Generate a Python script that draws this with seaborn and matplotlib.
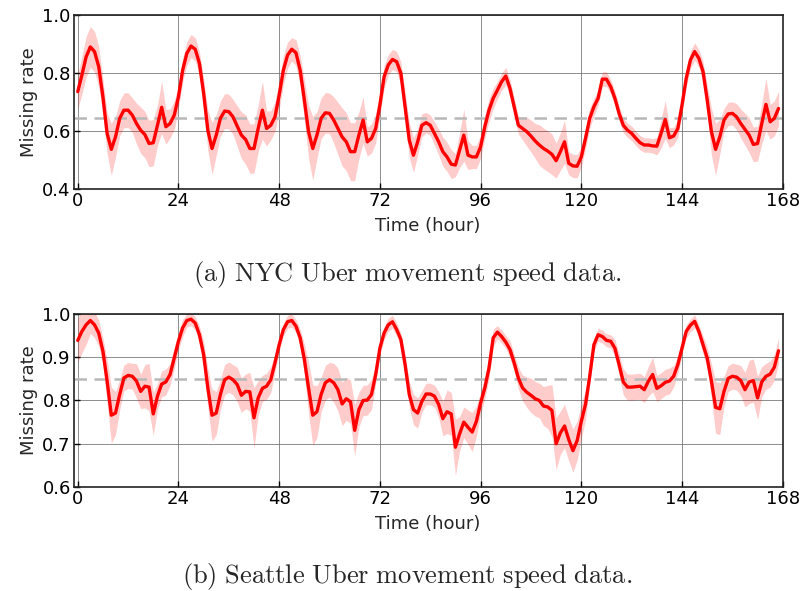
import numpy as np
import pandas as pd
import matplotlib
matplotlib.use("Agg")
import matplotlib.pyplot as plt
import seaborn as sns

# Hourly missing rate over one week (168 hours), mean and band half-width
hours = list(range(168))

nyc_mean = [
    0.736, 0.793, 0.856, 0.890, 0.874, 0.822, 0.718, 0.592, 0.537, 0.580,
    0.644, 0.672, 0.672, 0.655, 0.626, 0.603, 0.588, 0.557, 0.560, 0.620,
    0.682, 0.615, 0.626, 0.655, 0.718, 0.810, 0.868, 0.893, 0.882, 0.833,
    0.730, 0.603, 0.540, 0.586, 0.644, 0.669, 0.667, 0.649, 0.617, 0.586,
    0.571, 0.540, 0.540, 0.609, 0.672, 0.609, 0.620, 0.649, 0.724, 0.810,
    0.862, 0.882, 0.870, 0.810, 0.707, 0.598, 0.540, 0.586, 0.644, 0.663,
    0.661, 0.638, 0.609, 0.580, 0.563, 0.529, 0.529, 0.586, 0.638, 0.563,
    0.575, 0.609, 0.690, 0.787, 0.828, 0.847, 0.839, 0.799, 0.684, 0.569,
    0.517, 0.563, 0.620, 0.629, 0.620, 0.592, 0.563, 0.529, 0.511, 0.486,
    0.483, 0.534, 0.586, 0.517, 0.511, 0.511, 0.546, 0.615, 0.672, 0.713,
    0.741, 0.770, 0.790, 0.747, 0.684, 0.620, 0.609, 0.598, 0.583, 0.566,
    0.552, 0.540, 0.531, 0.520, 0.498, 0.529, 0.563, 0.489, 0.480, 0.479,
    0.511, 0.575, 0.644, 0.684, 0.713, 0.779, 0.779, 0.753, 0.713, 0.661,
    0.620, 0.603, 0.592, 0.575, 0.560, 0.552, 0.552, 0.549, 0.548, 0.592,
    0.640, 0.577, 0.583, 0.609, 0.690, 0.782, 0.845, 0.874, 0.851, 0.805,
    0.707, 0.598, 0.537, 0.580, 0.638, 0.659, 0.661, 0.649, 0.626, 0.606,
    0.586, 0.554, 0.557, 0.626, 0.692, 0.632, 0.644, 0.678,
]
nyc_spread = [
    0.060, 0.065, 0.070, 0.070, 0.070, 0.070, 0.060, 0.070, 0.090, 0.070,
    0.060, 0.060, 0.060, 0.060, 0.070, 0.080, 0.080, 0.080, 0.080, 0.070,
    0.090, 0.060, 0.050, 0.050, 0.040, 0.040, 0.040, 0.040, 0.040, 0.040,
    0.050, 0.070, 0.090, 0.070, 0.060, 0.060, 0.060, 0.060, 0.070, 0.080,
    0.085, 0.085, 0.085, 0.080, 0.100, 0.060, 0.050, 0.050, 0.050, 0.050,
    0.045, 0.040, 0.045, 0.050, 0.070, 0.090, 0.110, 0.080, 0.070, 0.070,
    0.070, 0.080, 0.090, 0.100, 0.100, 0.100, 0.100, 0.080, 0.080, 0.050,
    0.050, 0.050, 0.040, 0.040, 0.035, 0.035, 0.035, 0.040, 0.050, 0.060,
    0.060, 0.045, 0.040, 0.035, 0.035, 0.040, 0.045, 0.050, 0.050, 0.050,
    0.040, 0.060, 0.090, 0.050, 0.040, 0.040, 0.040, 0.040, 0.040, 0.035,
    0.030, 0.030, 0.030, 0.030, 0.030, 0.030, 0.040, 0.050, 0.055, 0.060,
    0.070, 0.070, 0.070, 0.070, 0.060, 0.065, 0.075, 0.040, 0.040, 0.040,
    0.035, 0.035, 0.035, 0.030, 0.025, 0.025, 0.025, 0.025, 0.025, 0.025,
    0.025, 0.025, 0.025, 0.025, 0.025, 0.025, 0.025, 0.025, 0.030, 0.050,
    0.065, 0.035, 0.030, 0.030, 0.030, 0.030, 0.030, 0.030, 0.030, 0.035,
    0.050, 0.080, 0.090, 0.060, 0.040, 0.040, 0.040, 0.045, 0.050, 0.055,
    0.060, 0.060, 0.060, 0.070, 0.090, 0.060, 0.060, 0.060,
]

sea_mean = [
    0.939, 0.960, 0.975, 0.985, 0.975, 0.956, 0.914, 0.845, 0.766, 0.771,
    0.814, 0.852, 0.858, 0.856, 0.845, 0.821, 0.833, 0.831, 0.769, 0.810,
    0.838, 0.843, 0.860, 0.898, 0.937, 0.968, 0.985, 0.988, 0.979, 0.952,
    0.906, 0.829, 0.766, 0.771, 0.814, 0.848, 0.854, 0.848, 0.837, 0.812,
    0.821, 0.820, 0.760, 0.806, 0.828, 0.833, 0.848, 0.887, 0.929, 0.964,
    0.982, 0.985, 0.972, 0.945, 0.895, 0.829, 0.766, 0.774, 0.814, 0.841,
    0.848, 0.841, 0.825, 0.792, 0.804, 0.797, 0.731, 0.779, 0.800, 0.801,
    0.814, 0.860, 0.921, 0.956, 0.975, 0.982, 0.964, 0.941, 0.883, 0.814,
    0.779, 0.771, 0.798, 0.815, 0.815, 0.810, 0.791, 0.758, 0.774, 0.769,
    0.692, 0.723, 0.750, 0.738, 0.727, 0.752, 0.794, 0.829, 0.875, 0.945,
    0.958, 0.948, 0.935, 0.918, 0.887, 0.852, 0.829, 0.819, 0.812, 0.804,
    0.800, 0.787, 0.785, 0.777, 0.700, 0.725, 0.741, 0.710, 0.684, 0.707,
    0.752, 0.791, 0.856, 0.929, 0.952, 0.948, 0.939, 0.937, 0.921, 0.883,
    0.843, 0.831, 0.831, 0.832, 0.833, 0.825, 0.845, 0.860, 0.828, 0.834,
    0.842, 0.845, 0.856, 0.883, 0.921, 0.960, 0.974, 0.983, 0.960, 0.929,
    0.898, 0.845, 0.784, 0.781, 0.821, 0.851, 0.856, 0.854, 0.846, 0.825,
    0.843, 0.846, 0.806, 0.843, 0.856, 0.861, 0.877, 0.915,
]
sea_spread = [
    0.050, 0.050, 0.045, 0.030, 0.030, 0.030, 0.030, 0.050, 0.065, 0.050,
    0.035, 0.030, 0.030, 0.030, 0.040, 0.040, 0.050, 0.055, 0.050, 0.030,
    0.030, 0.030, 0.025, 0.025, 0.020, 0.020, 0.015, 0.015, 0.015, 0.020,
    0.030, 0.045, 0.060, 0.050, 0.035, 0.035, 0.035, 0.035, 0.040, 0.040,
    0.040, 0.045, 0.070, 0.040, 0.030, 0.030, 0.030, 0.020, 0.015, 0.015,
    0.015, 0.015, 0.015, 0.020, 0.035, 0.060, 0.070, 0.060, 0.040, 0.040,
    0.040, 0.045, 0.050, 0.050, 0.050, 0.050, 0.060, 0.040, 0.035, 0.035,
    0.035, 0.020, 0.015, 0.015, 0.015, 0.015, 0.015, 0.015, 0.025, 0.030,
    0.035, 0.035, 0.025, 0.025, 0.025, 0.025, 0.030, 0.040, 0.050, 0.050,
    0.065, 0.040, 0.035, 0.040, 0.045, 0.035, 0.025, 0.025, 0.025, 0.020,
    0.015, 0.015, 0.015, 0.020, 0.020, 0.025, 0.030, 0.035, 0.040, 0.040,
    0.040, 0.045, 0.050, 0.060, 0.060, 0.050, 0.050, 0.050, 0.050, 0.045,
    0.040, 0.035, 0.020, 0.015, 0.015, 0.015, 0.015, 0.015, 0.020, 0.025,
    0.030, 0.030, 0.030, 0.030, 0.030, 0.030, 0.035, 0.040, 0.030, 0.030,
    0.030, 0.030, 0.025, 0.020, 0.015, 0.015, 0.015, 0.015, 0.015, 0.020,
    0.025, 0.040, 0.060, 0.060, 0.035, 0.030, 0.030, 0.030, 0.035, 0.040,
    0.050, 0.050, 0.050, 0.035, 0.030, 0.030, 0.030, 0.030,
]

nyc_avg = 0.645
sea_avg = 0.85

xticks = [0, 24, 48, 72, 96, 120, 144, 168]
nyc_yticks = [0.4, 0.6, 0.8, 1.0]
sea_yticks = [0.6, 0.7, 0.8, 0.9, 1.0]

captions = [
    r"$\mathrm{(a)\ NYC\ Uber\ movement\ speed\ data.}$",
    r"$\mathrm{(b)\ Seattle\ Uber\ movement\ speed\ data.}$",
]

sns.set_style("ticks")
plt.rcParams["font.family"] = ["DejaVu Sans"]
plt.rcParams["mathtext.fontset"] = "cm"

fig = plt.figure(figsize=(8.02, 5.91), dpi=100)
ax_top = fig.add_axes([0.0917, 0.680, 0.8843, 0.2946])
ax_bot = fig.add_axes([0.0917, 0.176, 0.8843, 0.2927])


def draw_panel(ax, mean, spread, avg, yticks, ylim):
    df = pd.DataFrame({"hour": hours, "rate": mean, "spread": spread})
    lo = df["rate"] - df["spread"]
    hi = df["rate"] + df["spread"]
    ax.fill_between(df["hour"], lo, hi, color="#ff0000", alpha=0.2,
                    linewidth=0, zorder=2)
    sns.lineplot(data=df, x="hour", y="rate", ax=ax, color="red",
                 linewidth=2.4, zorder=3)
    ax.axhline(avg, color="#b8b8b8", linestyle=(0, (5, 3)), linewidth=1.8,
               zorder=2.5)
    ax.set_xlim(-1, 168)
    ax.set_ylim(*ylim)
    ax.set_xticks(xticks)
    ax.set_yticks(yticks)
    ax.set_yticklabels([f"{t:.1f}" for t in yticks])
    ax.grid(True, color="#707070", linewidth=0.7, alpha=0.8, zorder=1)
    ax.tick_params(direction="in", length=4, width=1, labelsize=13,
                   colors="black", pad=2)
    for s in ax.spines.values():
        s.set_linewidth(1.2)
        s.set_color("#222222")
    ax.set_xlabel("Time (hour)", fontsize=13, labelpad=5)
    ax.set_ylabel("Missing rate", fontsize=13, labelpad=3)


draw_panel(ax_top, nyc_mean, nyc_spread, nyc_avg, nyc_yticks, (0.4, 1.0))
draw_panel(ax_bot, sea_mean, sea_spread, sea_avg, sea_yticks, (0.6, 1.0))

fig.text(0.508, 1 - 275 / 591, captions[0], ha="center", va="center",
         fontsize=19)
fig.text(0.508, 1 - 576 / 591, captions[1], ha="center", va="center",
         fontsize=19)

fig.savefig("out.png", dpi=100, facecolor="white")
